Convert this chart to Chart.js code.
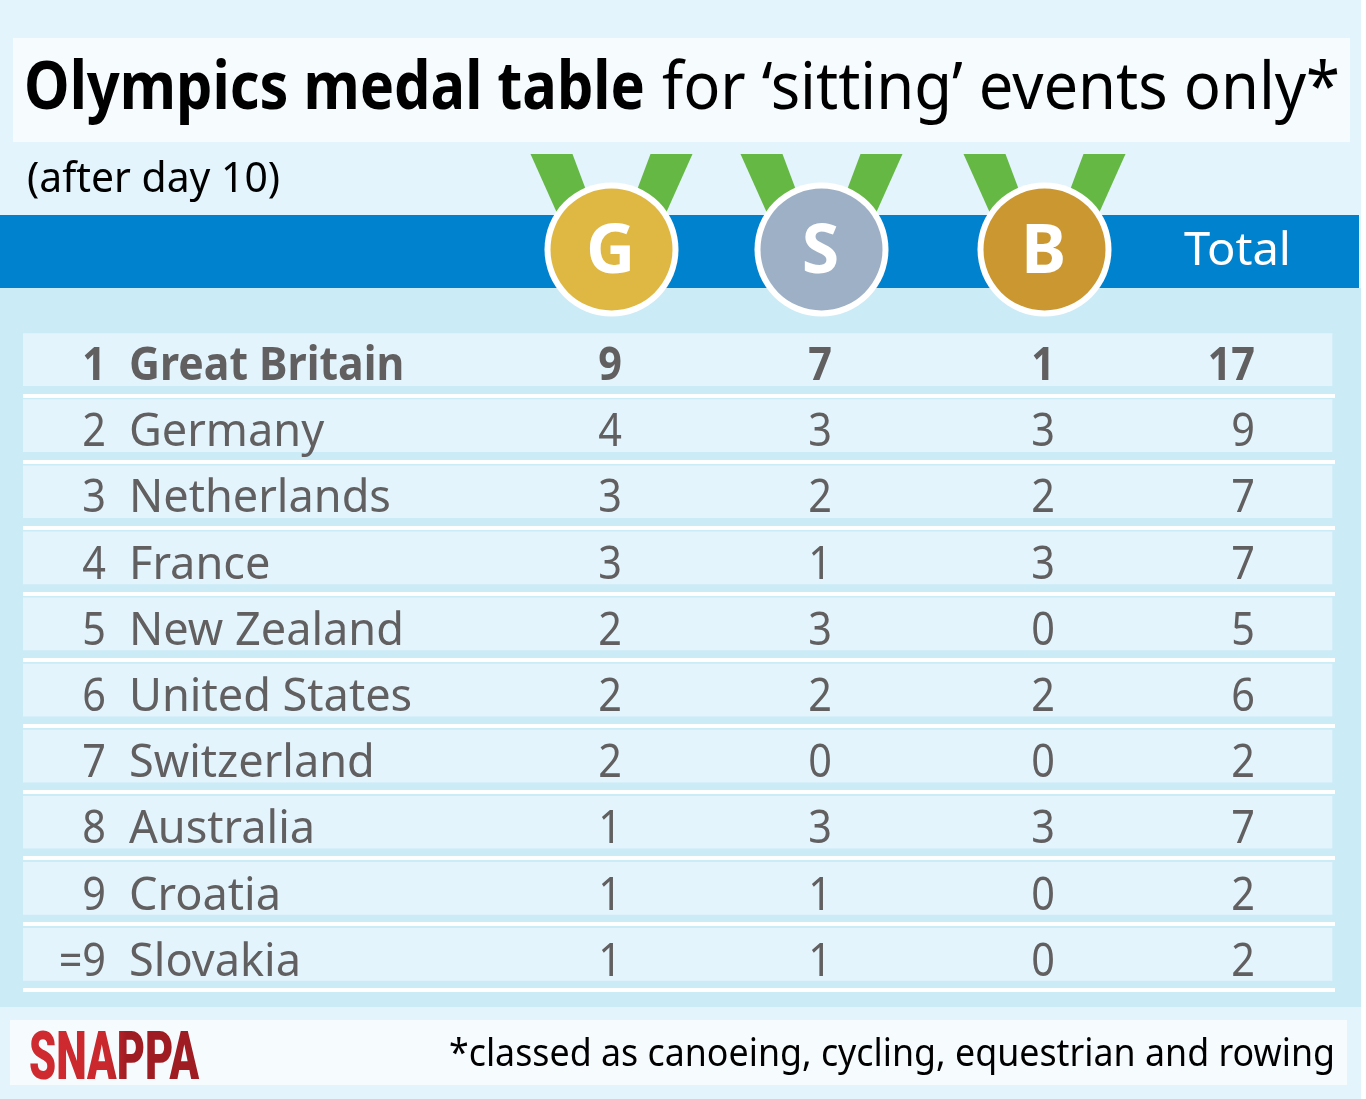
<!DOCTYPE html>
<html><head><meta charset="utf-8">
<style>html,body{margin:0;padding:0;background:#fff}canvas{display:block}</style>
<script src="https://cdn.jsdelivr.net/npm/chart.js@4"></script>
</head><body><canvas id="c" width="1366" height="1099"></canvas>
<script>
const ranks=['1','2','3','4','5','6','7','8','9','=9'];
const countries=['Great Britain','Germany','Netherlands','France','New Zealand','United States','Switzerland','Australia','Croatia','Slovakia'];
const gold=[9,4,3,3,2,2,2,1,1,1];
const silver=[7,3,2,1,3,2,0,3,1,1];
const bronze=[1,3,2,3,0,2,0,3,0,0];
const totals=[17,9,7,7,5,6,2,7,2,2];
const columnNames=['G','S','B','Total'];
const columnSeries=[gold,silver,bronze,totals];
const columnX=[610,820,1043,1255];
const medalColors=['#dfb844','#9eb0c6','#cb9730'];
const F='"Noto Sans"';
const INK='#615f60';
const DIGIT_SX=0.9;

function put(ctx,s,x,y,font,color,align,sx){
  ctx.save();ctx.translate(x,y);ctx.scale(sx||1,1);
  ctx.font=font;ctx.fillStyle=color;ctx.textAlign=align||'left';ctx.textBaseline='alphabetic';
  ctx.fillText(s,0,0);ctx.restore();
}
function fit(ctx,s,x,y,font,color,w){
  ctx.save();ctx.font=font;const m=ctx.measureText(s).width;ctx.restore();
  put(ctx,s,x,y,font,color,'left',w/m);
}
const frame={id:'frame',
  beforeDraw(ch){const c=ch.ctx;c.save();
    c.fillStyle='#fff';c.fillRect(0,0,1366,1099);
    c.fillStyle='#e3f4fc';c.fillRect(0,0,1361,1099);
    c.fillStyle='#cbebf7';c.fillRect(0,288,1361,719);
    c.fillStyle='#0082cf';c.fillRect(0,215,1359,73);
    c.fillStyle='#f6fbfe';c.fillRect(13,38,1337,104);c.fillRect(10,1020,1337,65);
    c.restore();},
  beforeDatasetDraw(ch,a){if(a.index===0){ch.ctx.save();ch.ctx.translate(0,-3);}},
  afterDatasetDraw(ch,a){if(a.index===0){ch.ctx.restore();}},
  afterDraw(ch){const c=ch.ctx,xs=ch.scales.x,ys=ch.scales.y;
    fit(c,'Olympics medal table',24,109,'700 66px '+F,'#000',621);
    fit(c,'for ‘sitting’ events only*',662,109,'400 66px '+F,'#000',678);
    fit(c,'(after day 10)',27,192,'400 42px '+F,'#000',253);
    columnNames.forEach((n,i)=>{
      const px=xs.getPixelForValue(columnX[i]);
      if(i<3){
        const cx=px+1.5,cy=249.5;
        c.fillStyle='#66b845';
        [-1,1].forEach(d=>{c.beginPath();c.moveTo(cx+d*81,154);c.lineTo(cx+d*39,154);c.lineTo(cx+d*18,210);c.lineTo(cx+d*55,212);c.closePath();c.fill();});
        c.fillStyle='#fff';c.beginPath();c.arc(cx,cy,67,0,Math.PI*2);c.fill();
        c.fillStyle=medalColors[i];c.beginPath();c.arc(cx,cy,61,0,Math.PI*2);c.fill();
        put(c,n,cx-1,273,'700 68px '+F,'#fff','center',1);
      } else {
        fit(c,n,1184,265,'400 46px '+F,'#fff',107);
      }
    });
    countries.forEach((name,r)=>{
      const y=ys.getPixelForValue(r)+17.5+r*0.1, bold=r===0, font=(bold?700:400)+' 46px '+F;
      put(c,ranks[r],106,y,font,INK,'right',DIGIT_SX);
      put(c,name,129,y,font,INK,'left',bold?0.93:0.98);
      columnSeries.forEach((vals,k)=>{
        put(c,String(vals[r]),xs.getPixelForValue(columnX[k]),y,font,INK,k===3?'right':'center',DIGIT_SX);
      });
    });
    const g=c.createLinearGradient(29,0,199,0);g.addColorStop(0,'#cf2a30');g.addColorStop(.55,'#c9282d');g.addColorStop(.72,'#9f1c23');g.addColorStop(1,'#9f1c23');
    fit(c,'SNAPPA',29,1079,'900 67px Roboto',g,170);
    fit(c,'*classed as canoeing, cycling, equestrian and rowing',449,1066,'400 38px '+F,'#000',886);
  }
};
new Chart(document.getElementById('c'),{
  type:'bar',
  data:{labels:countries,datasets:[
    {label:'rows',indexAxis:'y',data:countries.map(()=>[23,1332]),backgroundColor:'#e3f4fc',barThickness:52,grouped:false,borderWidth:0}
  ]},
  plugins:[frame],
  options:{
    indexAxis:'y',responsive:false,animation:false,devicePixelRatio:1,
    layout:{padding:{left:23,right:31,top:329.5,bottom:108.5}},
    plugins:{legend:{display:false},title:{display:false},tooltip:{enabled:false}},
    scales:{
      x:{type:'linear',min:23,max:1335,display:false},
      y:{type:'category',offset:true,
        grid:{offset:true,lineWidth:4,drawTicks:false,color:c=>c.index===0?'rgba(0,0,0,0)':'#ffffff'},
        border:{display:false},ticks:{display:false}}
    }
  }
});
</script></body></html>
